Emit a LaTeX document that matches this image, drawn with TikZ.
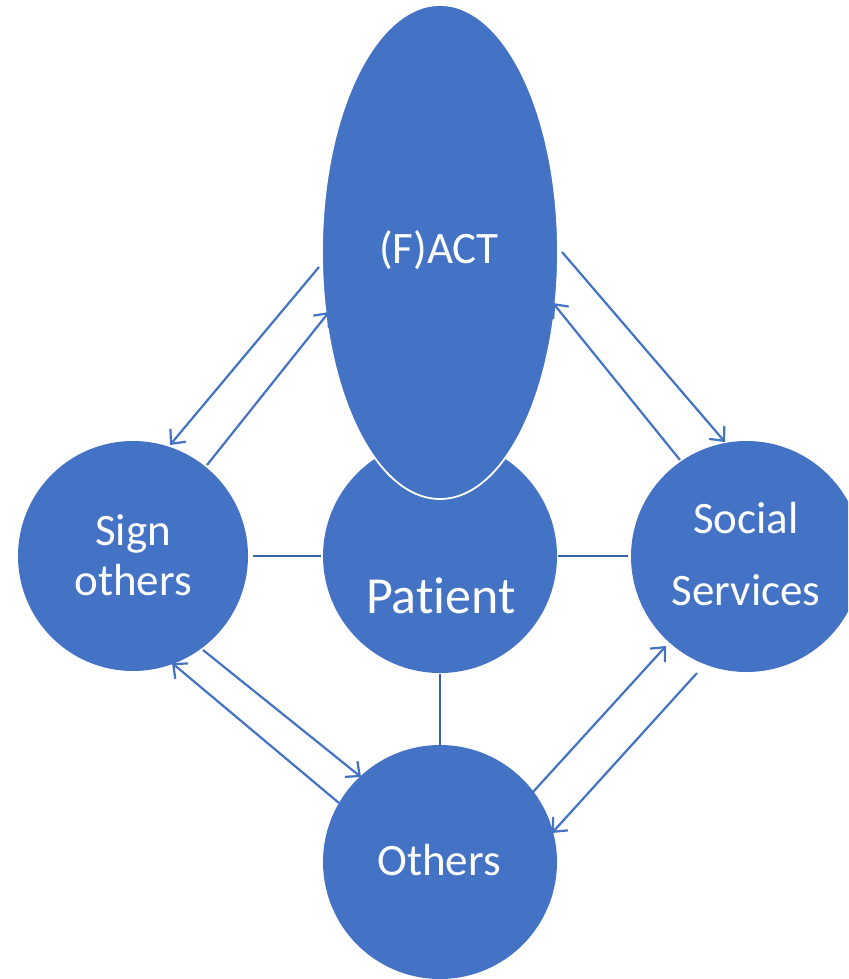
\documentclass[tikz,border=0pt]{standalone}
\usepackage{fontspec}
\setmainfont[Ligatures=NoCommon]{Carlito}
\usetikzlibrary{arrows.meta,shapes.geometric}
\definecolor{bluefill}{HTML}{4472C4}
\definecolor{linkblue}{HTML}{3560AE}
\tikzset{
  blob/.style={circle,fill=bluefill,inner sep=0pt,minimum size=#1},
  lbl/.style={text=white,font=\fontsize{45}{54}\selectfont,anchor=base,inner sep=0pt},
  link/.style={draw=linkblue,line width=2.2pt},
  flow/.style={draw=bluefill,line width=2.2pt,-{Straight Barb[length=11pt,width=20pt,line width=2.2pt]}}
}
\begin{document}
\begin{tikzpicture}[x=1pt,y=-1pt]
\useasboundingbox (0,0) rectangle (848,979);
\clip (0,0) rectangle (848,979);
% shapes
\node[blob=230pt] (sign) at (133,556) {};
\node[blob=231pt] (social) at (746.5,556.5) {};
\node[blob=234pt] (others) at (440,862) {};
\node[blob=234pt] (patient) at (440,556) {};
\node[ellipse,fill=bluefill,draw=white,line width=1.8pt,inner sep=0pt,minimum width=236pt,minimum height=494pt] (fact) at (440,252) {};
% texts
\node[lbl] (tfact) at (439,263) {(F)ACT};
\node[lbl,font=\fontsize{52}{60}\selectfont] (tpat) at (441,613) {Patient};
\node[lbl] (tsign1) at (133,545) {Sign};
\node[lbl] (tsign2) at (133,595) {others};
\node[lbl] (tsoc1) at (746,533) {Social};
\node[lbl] (tsoc2) at (746,605) {Services};
\node[lbl] (toth) at (439,875) {Others};
% plain links
\coordinate (p1) at (253,556); \coordinate (p2) at (321,556);
\coordinate (p3) at (558,556); \coordinate (p4) at (628,556);
\coordinate (p5) at (440,674); \coordinate (p6) at (440,745);
\draw[link] (p1) -- (p2);
\draw[link] (p3) -- (p4);
\draw[link] (p5) -- (p6);
% arrow endpoints
\coordinate (a1) at (319,267); \coordinate (a2) at (170,445);
\coordinate (b1) at (207,465); \coordinate (b2) at (329,312);
\coordinate (c1) at (562,252); \coordinate (c2) at (725,442);
\coordinate (d1) at (680,460); \coordinate (d2) at (553,303);
\coordinate (e1) at (339,803); \coordinate (e2) at (172,663);
\coordinate (f1) at (203,650); \coordinate (f2) at (361,777);
\coordinate (g1) at (533,792); \coordinate (g2) at (666,646);
\coordinate (h1) at (697,673); \coordinate (h2) at (552,833);
\draw[flow] (a1) -- (a2);
\draw[flow] (b1) -- (b2);
\draw[flow] (c1) -- (c2);
\draw[flow] (d1) -- (d2);
\draw[flow] (e1) -- (e2);
\draw[flow] (f1) -- (f2);
\draw[flow] (g1) -- (g2);
\draw[flow] (h1) -- (h2);
\end{tikzpicture}
\end{document}
